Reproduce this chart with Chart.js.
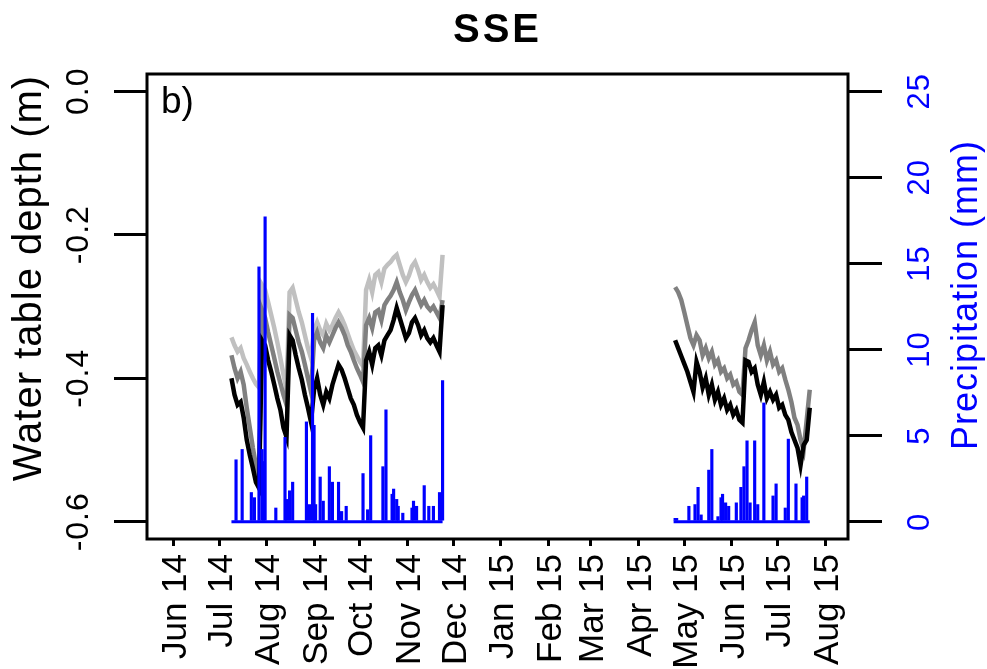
<!DOCTYPE html>
<html>
<head>
<meta charset="utf-8">
<title>SSE</title>
<script src="https://cdn.jsdelivr.net/npm/chart.js@4.4.0/dist/chart.umd.min.js"></script>
<style>
  html, body { margin: 0; padding: 0; background: #fff; }
  canvas { display: block; }
</style>
</head>
<body>
<canvas id="wtChart" width="987" height="669"></canvas>
<script>
// x values are days since 1 June 2014
const monthDays = [0, 30, 61, 92, 122, 153, 183, 214, 245, 273, 304, 334, 365, 395, 426];
const monthLabels = ['Jun 14', 'Jul 14', 'Aug 14', 'Sep 14', 'Oct 14', 'Nov 14', 'Dec 14',
                     'Jan 15', 'Feb 15', 'Mar 15', 'Apr 15', 'May 15', 'Jun 15', 'Jul 15', 'Aug 15'];
const depthTicks = [-0.6, -0.4, -0.2, 0.0];
const depthTickLabels = ['-0.6', '-0.4', '-0.2', '0.0'];
const rainTicks = [0, 5, 10, 15, 20, 25];

// first logging period (Jul - Nov 2014)
const days1 = [38, 40, 42, 44, 46, 48, 50, 52, 54, 56, 58, 60, 62, 64, 66, 68, 70, 72, 74, 76,
               78, 80, 82, 84, 86, 88, 90, 92, 94, 96, 98, 100, 102, 104, 106, 108, 110, 112, 114, 116,
               118, 120, 122, 124, 126, 128, 130, 132, 134, 136, 138, 140, 142, 144, 146, 148, 150, 152, 154, 156,
               158, 160, 162, 164, 166, 168, 170, 172, 174, 176];
const blackWt1 = [-0.400, -0.423, -0.437, -0.433, -0.455, -0.486, -0.507, -0.525, -0.545, -0.553,
                  -0.347, -0.354, -0.375, -0.391, -0.409, -0.428, -0.444, -0.469, -0.482, -0.340,
                  -0.347, -0.368, -0.386, -0.402, -0.423, -0.441, -0.461, -0.416, -0.400, -0.423,
                  -0.437, -0.419, -0.428, -0.409, -0.395, -0.381, -0.388, -0.400, -0.414, -0.428,
                  -0.437, -0.451, -0.461, -0.469, -0.375, -0.363, -0.381, -0.358, -0.354, -0.368,
                  -0.347, -0.340, -0.333, -0.319, -0.302, -0.316, -0.330, -0.344, -0.337, -0.322,
                  -0.316, -0.326, -0.340, -0.333, -0.344, -0.350, -0.344, -0.354, -0.363, -0.298];
const darkWt1 = [-0.368, -0.386, -0.400, -0.391, -0.409, -0.441, -0.469, -0.497, -0.521, -0.539,
                 -0.305, -0.316, -0.336, -0.354, -0.372, -0.391, -0.407, -0.423, -0.437, -0.312,
                 -0.316, -0.333, -0.350, -0.363, -0.381, -0.400, -0.419, -0.347, -0.336, -0.350,
                 -0.358, -0.341, -0.350, -0.340, -0.330, -0.322, -0.330, -0.340, -0.354, -0.363,
                 -0.375, -0.386, -0.395, -0.405, -0.326, -0.316, -0.330, -0.308, -0.305, -0.319,
                 -0.298, -0.291, -0.285, -0.277, -0.266, -0.280, -0.291, -0.305, -0.294, -0.284,
                 -0.277, -0.288, -0.298, -0.291, -0.300, -0.305, -0.300, -0.308, -0.316, -0.291];
const lightWt1 = [-0.343, -0.354, -0.363, -0.358, -0.372, -0.381, -0.391, -0.400, -0.408, -0.413,
                  -0.270, -0.277, -0.294, -0.312, -0.330, -0.350, -0.372, -0.395, -0.416, -0.280,
                  -0.274, -0.291, -0.308, -0.322, -0.340, -0.358, -0.372, -0.333, -0.322, -0.333,
                  -0.340, -0.324, -0.333, -0.326, -0.316, -0.308, -0.316, -0.326, -0.338, -0.350,
                  -0.361, -0.369, -0.377, -0.383, -0.277, -0.263, -0.280, -0.256, -0.252, -0.266,
                  -0.247, -0.242, -0.238, -0.232, -0.228, -0.242, -0.256, -0.266, -0.257, -0.244,
                  -0.238, -0.249, -0.263, -0.256, -0.266, -0.274, -0.269, -0.277, -0.286, -0.228];

// second logging period (Apr - Jul 2015)
const days2 = [328, 330, 332, 334, 336, 338, 340, 342, 344, 346, 348, 350, 352, 354, 356, 358, 360, 362, 364, 366,
               368, 370, 372, 374, 376, 378, 380, 382, 384, 386, 388, 390, 392, 394, 396, 398, 400, 402, 404, 406,
               408, 410, 412, 414, 416];
const blackWt2 = [-0.347, -0.358, -0.369, -0.380, -0.391, -0.405, -0.419, -0.377, -0.391, -0.413,
                  -0.400, -0.423, -0.409, -0.430, -0.419, -0.437, -0.428, -0.444, -0.437, -0.451,
                  -0.444, -0.458, -0.462, -0.375, -0.377, -0.391, -0.386, -0.409, -0.423, -0.405,
                  -0.428, -0.419, -0.430, -0.423, -0.441, -0.437, -0.451, -0.458, -0.475, -0.486,
                  -0.497, -0.521, -0.493, -0.486, -0.441];
const darkWt2 = [-0.273, -0.280, -0.291, -0.308, -0.326, -0.344, -0.354, -0.340, -0.347, -0.368,
                 -0.358, -0.372, -0.363, -0.381, -0.375, -0.391, -0.386, -0.400, -0.395, -0.409,
                 -0.405, -0.419, -0.423, -0.358, -0.347, -0.333, -0.322, -0.354, -0.368, -0.354,
                 -0.375, -0.363, -0.381, -0.375, -0.391, -0.386, -0.402, -0.416, -0.433, -0.455,
                 -0.465, -0.486, -0.500, -0.458, -0.416];

// daily precipitation (days with rain only), mm
const rainDays = [41, 45, 51, 53, 56, 58, 59, 60, 67, 73, 74, 76, 78, 87, 89, 91, 92, 93, 96, 98,
                  102, 104, 108, 110, 113, 124, 127, 129, 137, 139, 143, 144, 146, 147, 150, 156, 157, 159, 164, 167,
                  170, 174, 176,
                  328, 329, 337, 341, 343, 345, 350, 352, 356, 358, 359, 361, 363, 368, 371, 373, 375, 377, 380, 382,
                  386, 392, 394, 400, 402, 407, 411, 412, 414];
const rainMm = [3.6, 4.2, 1.7, 1.4, 14.8, 4.2, 3.5, 17.7, 0.8, 4.9, 1.3, 1.8, 2.3, 5.8, 1.0, 12.1, 5.6, 1.0, 2.6, 1.2,
                3.2, 2.3, 2.3, 0.6, 0.9, 2.8, 0.7, 5.0, 3.2, 6.5, 1.6, 1.9, 1.3, 0.9, 0.5, 0.8, 1.2, 0.9, 2.1, 0.9,
                0.9, 1.7, 8.2,
                0.2, 0.2, 0.9, 1.0, 2.0, 0.4, 3.0, 4.2, 0.3, 1.4, 1.6, 1.1, 0.9, 1.1, 2.0, 3.2, 4.7, 1.1, 4.7, 1.0,
                6.9, 1.5, 2.2, 0.8, 4.8, 2.2, 1.4, 1.5, 2.6];
// start / end of each gauge record (zero line)
const gaugeStart = [38, 327];
const gaugeEnd = [176, 416];

// --- helpers ---
const FONT = '"Liberation Sans", Arial, sans-serif';
const toPoints = (days, vals) => days.map((d, i) => ({ x: d, y: vals[i] }));
const gap = { x: 250, y: null };

const blackData = [...toPoints(days1, blackWt1), gap, ...toPoints(days2, blackWt2)];
const darkData = [...toPoints(days1, darkWt1), gap, ...toPoints(days2, darkWt2)];
const lightData = toPoints(days1, lightWt1);
const rainData = toPoints(rainDays, rainMm);
const zeroLine = [];
gaugeStart.forEach((s, i) => {
    if (i > 0) zeroLine.push(gap);
    zeroLine.push({ x: s, y: 0 }, { x: gaugeEnd[i], y: 0 });
});

// R-style labels: rotated tick labels, axis titles, panel letter and box
const rLabels = {
    id: 'rLabels',
    afterDraw(chart) {
        const { ctx, chartArea: a, scales } = chart;
        ctx.save();
        ctx.strokeStyle = '#000';
        ctx.lineWidth = 3;
        ctx.strokeRect(a.left, a.top, a.right - a.left, a.bottom - a.top);

        const rotText = (txt, x, y, align, font, color, spacing) => {
            ctx.save();
            ctx.translate(x, y);
            ctx.rotate(-Math.PI / 2);
            ctx.font = font;
            ctx.fillStyle = color;
            ctx.letterSpacing = spacing || '0px';
            ctx.textAlign = align;
            ctx.textBaseline = 'alphabetic';
            ctx.fillText(txt, 0, 0);
            ctx.restore();
        };

        // x tick labels
        monthDays.forEach((d, i) => {
            const px = scales.x.getPixelForValue(d);
            rotText(monthLabels[i], px + 12.5, 554, 'right', '35px ' + FONT, '#000');
        });
        // left ticks
        depthTicks.forEach((v, i) => {
            rotText(depthTickLabels[i], 88, scales.y.getPixelForValue(v), 'center', '32px ' + FONT, '#000', '1px');
        });
        // right ticks
        rainTicks.forEach(v => {
            rotText(String(v), 929, scales.y2.getPixelForValue(v), 'center', '31px ' + FONT, '#0000ff', '1px');
        });
        // axis titles
        rotText('Water table depth (m)', 40.5, 278, 'center', '40px ' + FONT, '#000', '1px');
        rotText('Precipitation (mm)', 976.5, 295, 'center', '36px ' + FONT, '#0000ff', '1px');

        // main title and panel letter
        ctx.fillStyle = '#000';
        ctx.textBaseline = 'alphabetic';
        ctx.font = 'bold 40px ' + FONT;
        ctx.letterSpacing = '3px';
        ctx.textAlign = 'center';
        ctx.fillText('SSE', (a.left + a.right) / 2, 41.5);
        ctx.font = '37px ' + FONT;
        ctx.letterSpacing = '0px';
        ctx.textAlign = 'left';
        ctx.fillText('b)', 161, 113);
        ctx.restore();
    }
};

const tickGrid = (len) => ({
    drawOnChartArea: false,
    drawTicks: true,
    tickLength: len,
    color: '#000',
    lineWidth: 3,
    offset: false
});

new Chart(document.getElementById('wtChart'), {
    type: 'line',
    data: {
        datasets: [
            { type: 'bar', label: 'Precipitation', data: rainData, yAxisID: 'y2',
              backgroundColor: '#0000ff', borderWidth: 0, barThickness: 2.5 },
            { label: 'zero', data: zeroLine, yAxisID: 'y2', borderColor: '#0000ff',
              borderWidth: 3, pointRadius: 0, tension: 0 },
            { label: 'logger 1', data: blackData, yAxisID: 'y', borderColor: '#000000',
              borderWidth: 4.5, pointRadius: 0, tension: 0 },
            { label: 'logger 2', data: darkData, yAxisID: 'y', borderColor: '#808080',
              borderWidth: 4.5, pointRadius: 0, tension: 0 },
            { label: 'logger 3', data: lightData, yAxisID: 'y', borderColor: '#c0c0c0',
              borderWidth: 4.5, pointRadius: 0, tension: 0 }
        ]
    },
    options: {
        responsive: false,
        animation: false,
        devicePixelRatio: 1,
        layout: { padding: { left: 114, right: 105, top: 74, bottom: 123 } },
        plugins: { legend: { display: false }, tooltip: { enabled: false }, title: { display: false } },
        scales: {
            x: {
                type: 'linear', min: -17.2, max: 441, offset: false,
                grid: tickGrid(7), border: { display: false },
                ticks: { display: false },
                afterBuildTicks: s => { s.ticks = monthDays.map(v => ({ value: v })); }
            },
            y: {
                type: 'linear', position: 'left', min: -0.624, max: 0.024,
                grid: tickGrid(33), border: { display: false },
                ticks: { display: false },
                afterBuildTicks: s => { s.ticks = depthTicks.map(v => ({ value: v })); }
            },
            y2: {
                type: 'linear', position: 'right', min: -1, max: 26,
                grid: tickGrid(34), border: { display: false },
                ticks: { display: false },
                afterBuildTicks: s => { s.ticks = rainTicks.map(v => ({ value: v })); }
            }
        }
    },
    plugins: [rLabels]
});
</script>
</body>
</html>
